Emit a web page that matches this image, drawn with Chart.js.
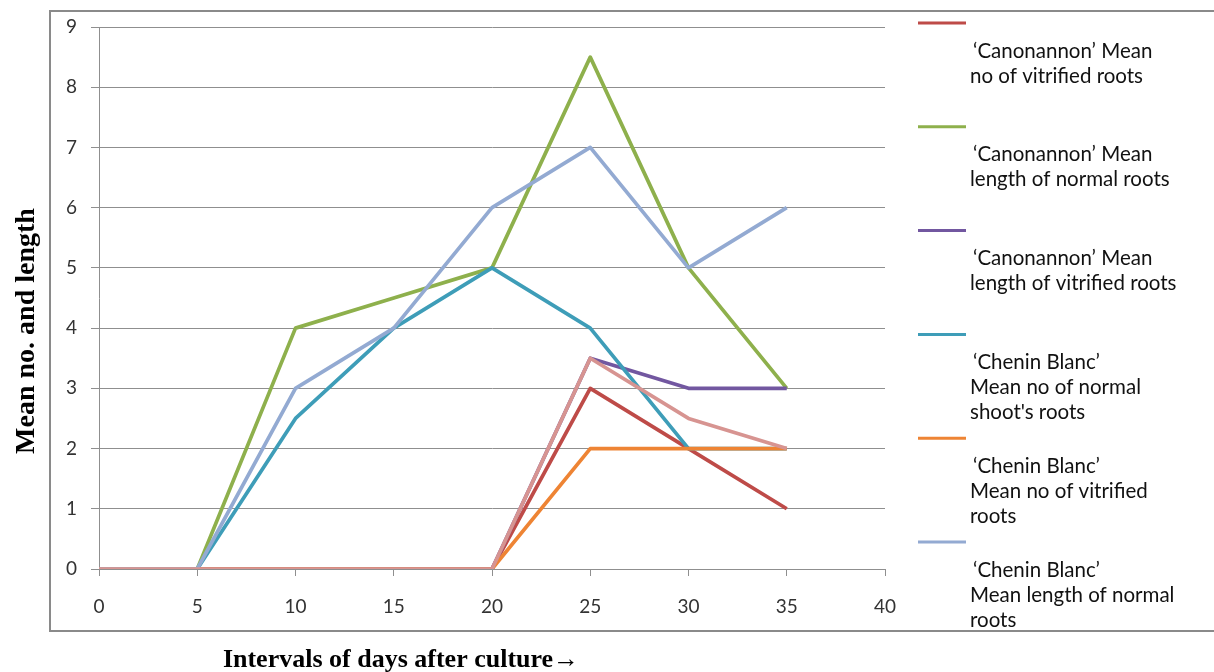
<!DOCTYPE html>
<html>
<head>
<meta charset="utf-8">
<script src="https://cdn.jsdelivr.net/npm/chart.js@4.4.0/dist/chart.umd.min.js"></script>
<style>
  html, body { margin: 0; padding: 0; background: #fff; }
  #wrap { position: relative; width: 1214px; height: 672px; }
</style>
</head>
<body>
<div id="wrap"><canvas id="rootChart"></canvas></div>
<script>
// x values: intervals of days after culture
const days = [0, 5, 10, 15, 20, 25, 30, 35];

// series values
const canNoVitrified     = [0, 0, 0, 0, 0, 3, 2, 1];
const canLenNormal       = [0, 0, 4, 4.5, 5, 8.5, 5, 3];
const canLenVitrified    = [0, 0, 0, 0, 0, 3.5, 3, 3];
const cheninNoNormal     = [0, 0, 2.5, 4, 5, 4, 2, 2];
const cheninNoVitrified  = [0, 0, 0, 0, 0, 2, 2, 2];
const cheninLenNormal    = [0, 0, 3, 4, 6, 7, 5, 6];
const cheninLenVitrified = [0, 0, 0, 0, 0, 3.5, 2.5, 2];

// legend names, as wrapped in the picture (7th entry is cut off there)
const seriesNames = [
    ['\u2018Canonannon\u2019 Mean', 'no of vitrified roots'],
    ['\u2018Canonannon\u2019 Mean', 'length of normal roots'],
    ['\u2018Canonannon\u2019 Mean', 'length of vitrified roots'],
    ['\u2018Chenin Blanc\u2019', 'Mean no of normal', "shoot's roots"],
    ['\u2018Chenin Blanc\u2019', 'Mean no of vitrified', 'roots'],
    ['\u2018Chenin Blanc\u2019', 'Mean length of normal', 'roots'],
    ['\u2018Chenin Blanc\u2019', 'Mean length of vitrified', 'roots']
];
const shownInLegend = 6;

const seriesValues = [canNoVitrified, canLenNormal, canLenVitrified, cheninNoNormal,
                      cheninNoVitrified, cheninLenNormal, cheninLenVitrified];
const seriesColors = ['#BE4B48', '#8EB04C', '#7257A0', '#3E9DB8', '#EE8434', '#93AAD2', '#D79491'];

const yTicks = [0, 1, 2, 3, 4, 5, 6, 7, 8, 9];
const xTicks = [0, 5, 10, 15, 20, 25, 30, 35, 40];

const yTitle = 'Mean no. and length';
const xTitle = 'Intervals of days after culture\u2192';

const gridGray = '#8f8f8f';
const tickFont = { family: 'Lato', size: 19 };

// frame, axis titles and the wrapped legend
const decorations = {
    id: 'decorations',
    beforeDraw(chart) {
        const ctx = chart.ctx;
        ctx.save();
        ctx.strokeStyle = '#8a8a8a';
        ctx.lineWidth = 2;
        ctx.strokeRect(50, 11, 1220, 620);
        ctx.restore();
    },
    afterDraw(chart) {
        const ctx = chart.ctx;
        ctx.save();
        ctx.fillStyle = '#000';
        ctx.font = 'bold 28px "Liberation Serif"';
        ctx.textAlign = 'center';
        ctx.textBaseline = 'alphabetic';
        ctx.translate(34, 331);
        ctx.rotate(-Math.PI / 2);
        ctx.fillText(yTitle, 0, 0);
        ctx.restore();

        ctx.save();
        ctx.fillStyle = '#000';
        ctx.font = 'bold 26px "Liberation Serif"';
        ctx.textAlign = 'center';
        ctx.textBaseline = 'alphabetic';
        ctx.fillText(xTitle, 401, 667);
        ctx.restore();

        ctx.save();
        ctx.font = '20.5px Lato';
        ctx.textAlign = 'left';
        ctx.textBaseline = 'middle';
        for (let i = 0; i < shownInLegend; i++) {
            const y = 23 + i * 103.8;
            ctx.strokeStyle = seriesColors[i];
            ctx.lineWidth = 3;
            ctx.beginPath();
            ctx.moveTo(918, y);
            ctx.lineTo(966, y);
            ctx.stroke();
            ctx.fillStyle = '#111';
            seriesNames[i].forEach((line, k) => {
                ctx.fillText(line, k === 0 ? 973 : 970, y + 28 + k * 25);
            });
        }
        ctx.restore();
    }
};

const datasets = seriesValues.map((vals, i) => ({
    label: seriesNames[i].join(' '),
    data: days.map((d, j) => ({ x: d, y: vals[j] })),
    borderColor: seriesColors[i],
    backgroundColor: seriesColors[i],
    borderWidth: 3.7,
    pointRadius: 0,
    tension: 0,
    borderJoinStyle: 'round',
    fill: false,
    order: seriesValues.length - i
}));

new Chart(document.getElementById('rootChart'), {
    type: 'line',
    data: { datasets },
    options: {
        responsive: true,
        maintainAspectRatio: false,
        animation: false,
        layout: { padding: { left: 0, top: 27, right: 329, bottom: 43 } },
        plugins: { legend: { display: false }, tooltip: { enabled: false } },
        scales: {
            x: {
                type: 'linear',
                min: 0, max: 40,
                afterBuildTicks: s => { s.ticks = xTicks.map(v => ({ value: v })); },
                afterFit: s => { s.height = 60; },
                grid: { drawOnChartArea: false, drawTicks: true, tickLength: 7, color: gridGray },
                border: { display: true, color: gridGray, width: 1 },
                ticks: { color: '#333', font: tickFont, padding: 19, maxRotation: 0 }
            },
            y: {
                min: 0, max: 9,
                afterBuildTicks: s => { s.ticks = yTicks.map(v => ({ value: v })); },
                afterFit: s => { s.width = 99; },
                grid: { color: gridGray, tickLength: 8, drawTicks: true },
                border: { display: true, color: gridGray, width: 1 },
                ticks: { color: '#333', font: tickFont, padding: 14 }
            }
        }
    },
    plugins: [decorations]
});
</script>
</body>
</html>
